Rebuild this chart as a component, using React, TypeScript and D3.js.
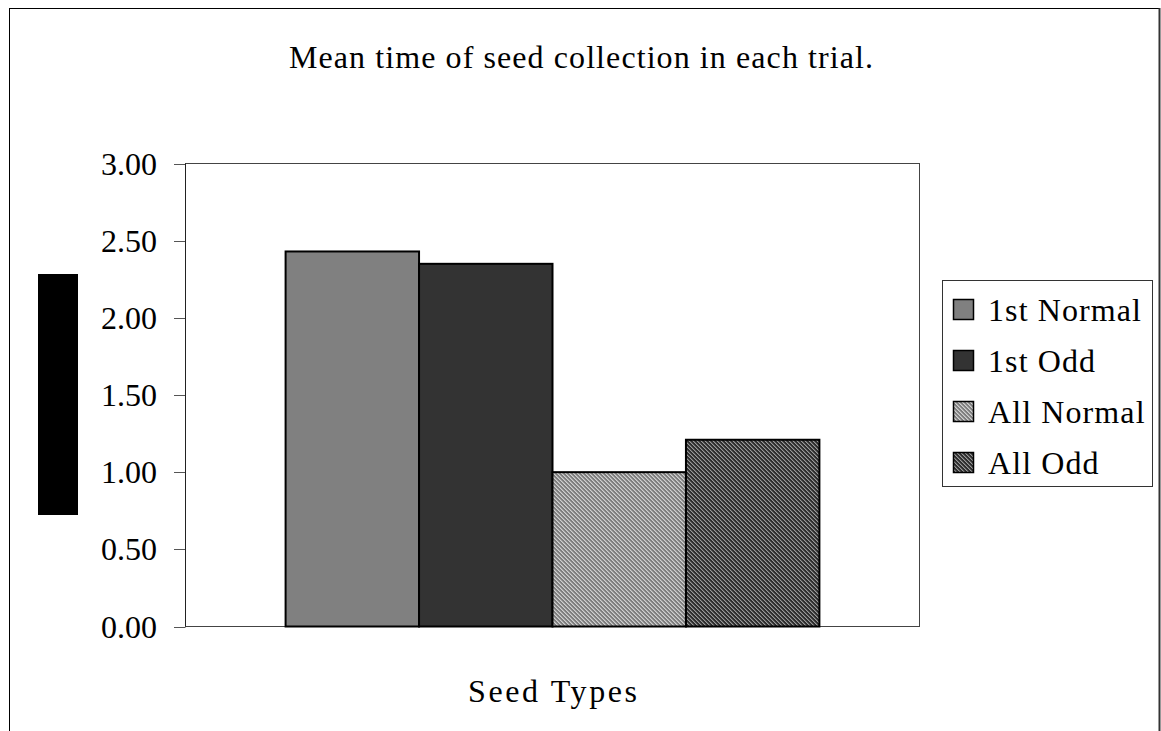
import React from "react";
import * as d3 from "d3";

const categories = ["Seed Types"];
const seriesNames = ["1st Normal", "1st Odd", "All Normal", "All Odd"];
const seriesValues = [2.43, 2.35, 1.0, 1.21];
const yTicks = [0, 0.5, 1, 1.5, 2, 2.5, 3];
const titleText = "Mean time of seed collection in each trial.";
const xAxisTitle = "Seed Types";

const W = 1161;
const H = 731;
const plot = { left: 185.5, right: 919.5, top: 163.5, bottom: 626.5 };
const FONT = "'Liberation Serif', 'Times New Roman', serif";

const fills = ["#808080", "#333333", "url(#patNormal)", "url(#patOdd)"];

export default function App() {
  const y = d3.scaleLinear().domain([0, 3]).range([plot.bottom, plot.top]);
  const x0 = d3.scaleBand<string>().domain(categories).range([plot.left, plot.right]).padding(0);
  const x1 = d3
    .scaleBand<string>()
    .domain(seriesNames)
    .range([0, x0.bandwidth()])
    .paddingInner(0)
    .paddingOuter(0.75);
  const fmt = d3.format(".2f");

  const legend = { x: 942.5, y: 280.5, w: 210, h: 206 };
  const legendRowY = (i: number) => 310 + i * 51;

  return (
    <svg
      width={W}
      height={H}
      style={{ position: "absolute", left: 0, top: 0, background: "#fff" }}
      fontFamily={FONT}
    >
      <defs>
        <pattern id="patNormal" patternUnits="userSpaceOnUse" width={4} height={4}>
          <rect width={4} height={4} fill="#7e7e7e" />
          <rect x={0} y={0} width={1} height={1} fill="#d0d0d0" />
          <rect x={1} y={1} width={1} height={1} fill="#d0d0d0" />
          <rect x={2} y={2} width={1} height={1} fill="#d0d0d0" />
          <rect x={3} y={3} width={1} height={1} fill="#d0d0d0" />
          <rect x={1} y={0} width={1} height={1} fill="#a8a8a8" />
          <rect x={2} y={1} width={1} height={1} fill="#a8a8a8" />
          <rect x={3} y={2} width={1} height={1} fill="#a8a8a8" />
          <rect x={0} y={3} width={1} height={1} fill="#a8a8a8" />
        </pattern>
        <pattern id="patOdd" patternUnits="userSpaceOnUse" width={4} height={4}>
          <rect width={4} height={4} fill="#2e2e2e" />
          <rect x={0} y={0} width={1} height={1} fill="#9a9a9a" />
          <rect x={1} y={1} width={1} height={1} fill="#9a9a9a" />
          <rect x={2} y={2} width={1} height={1} fill="#9a9a9a" />
          <rect x={3} y={3} width={1} height={1} fill="#9a9a9a" />
          <rect x={1} y={0} width={1} height={1} fill="#5a5a5a" />
          <rect x={2} y={1} width={1} height={1} fill="#5a5a5a" />
          <rect x={3} y={2} width={1} height={1} fill="#5a5a5a" />
          <rect x={0} y={3} width={1} height={1} fill="#5a5a5a" />
        </pattern>
      </defs>

      {/* outer chart frame */}
      <rect x={9.5} y={8.5} width={1150} height={760} fill="#fff" stroke="#000" strokeWidth={1} />
      <line x1={1159.5} y1={8} x2={1159.5} y2={731} stroke="#333" strokeWidth={2} />

      {/* title */}
      <text
        x={581}
        y={68}
        fontSize={32}
        textAnchor="middle"
        textLength={584}
        lengthAdjust="spacing"
        fill="#000"
      >
        {titleText}
      </text>

      {/* plot area */}
      <rect
        x={plot.left}
        y={plot.top}
        width={plot.right - plot.left}
        height={plot.bottom - plot.top}
        fill="#fff"
        stroke="#444"
        strokeWidth={1}
      />

      {/* y-axis ticks & labels */}
      {yTicks.map((t) => (
        <g key={t}>
          <line x1={174} x2={plot.left} y1={Math.round(y(t)) + 0.5} y2={Math.round(y(t)) + 0.5} stroke="#555" strokeWidth={1} />
          <text x={157} y={y(t) + 11} fontSize={32} textAnchor="end" fill="#000">
            {fmt(t)}
          </text>
        </g>
      ))}
      <line x1={plot.left} x2={plot.left} y1={plot.top} y2={plot.bottom} stroke="#222" strokeWidth={1} />

      {/* bars */}
      {categories.map((c) =>
        seriesNames.map((s, i) => {
          const bx = (x0(c) ?? 0) + (x1(s) ?? 0);
          const by = y(seriesValues[i]);
          return (
            <rect
              key={s}
              x={bx}
              y={by}
              width={x1.bandwidth()}
              height={y(0) - by}
              fill={fills[i]}
              stroke="#000"
              strokeWidth={2}
            />
          );
        })
      )}

      {/* y-axis title (rendered as a solid black block in the reference) */}
      <rect x={38} y={274} width={40} height={241} fill="#000" />

      {/* x-axis title */}
      <text
        x={(plot.left + plot.right) / 2}
        y={702}
        fontSize={32}
        textAnchor="middle"
        textLength={169}
        lengthAdjust="spacing"
        fill="#000"
      >
        {xAxisTitle}
      </text>

      {/* legend */}
      <rect x={legend.x} y={legend.y} width={legend.w} height={legend.h} fill="#fff" stroke="#333" strokeWidth={1} />
      {seriesNames.map((s, i) => (
        <g key={s}>
          <rect
            x={953.5}
            y={legendRowY(i) - 10.5}
            width={20}
            height={20}
            fill={fills[i]}
            stroke="#000"
            strokeWidth={1.5}
          />
          <text x={988} y={legendRowY(i) + 11} fontSize={32} letterSpacing={1.1} fill="#000">
            {s}
          </text>
        </g>
      ))}
    </svg>
  );
}
